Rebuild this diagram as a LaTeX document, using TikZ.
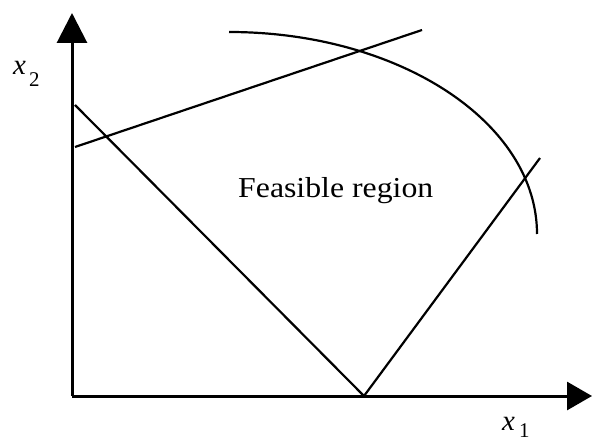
\documentclass[tikz,border=0pt]{standalone}
\usepackage{fontspec}
\setmainfont{Liberation Serif}
\usetikzlibrary{arrows.meta}
\begin{document}
\begin{tikzpicture}[x=1bp,y=-1bp,
  axis/.style={line width=3bp},
  constraint/.style={line width=2.2bp},
  lbl/.style={inner sep=0pt,anchor=base west,font=\fontsize{29}{32}\selectfont}]
\useasboundingbox (0,0) rectangle (592,444);
\coordinate (O) at (72,396);
\coordinate (Ytip) at (72,13);
\coordinate (Xtip) at (592,396);
\draw[axis,-{Triangle[length=30bp,width=30bp]}] (O) -- (Ytip);
\draw[axis,-{Triangle[length=25bp,width=28bp]}] (O) -- (Xtip);
% constraints
\coordinate (A1) at (75,147);
\coordinate (A2) at (422,30);
\coordinate (B1) at (75,105);
\coordinate (V) at (364,396);
\coordinate (C2) at (540,158);
\coordinate (E1) at (229,32);
\draw[constraint] (A1) -- (A2);
\draw[constraint] (B1) -- (V) -- (C2);
\draw[constraint] (E1) arc[start angle=-90,end angle=0,x radius=308,y radius=202];
% labels
\node[lbl,xscale=1.1] (fr) at (238,198) {Feasible region};
\node[lbl] (x2) at (13,75) {\itshape x\hspace{3bp}\raisebox{-12bp}{\upshape\fontsize{21}{21}\selectfont 2}};
\node[lbl] (x1) at (502,430) {\itshape x\hspace{4bp}\raisebox{-7bp}{\upshape\fontsize{21}{21}\selectfont 1}};
\end{tikzpicture}
\end{document}
